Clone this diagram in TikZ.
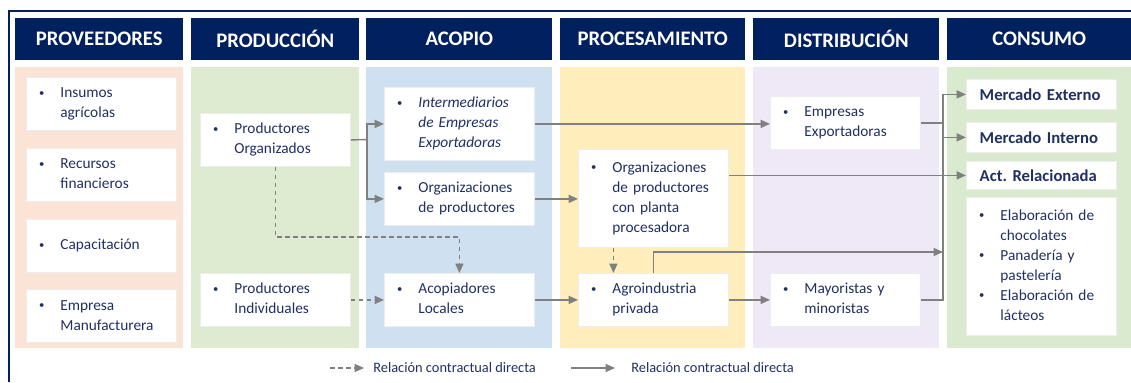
\documentclass[tikz,border=0pt]{standalone}
\usepackage{fontspec}
\setmainfont{Carlito}
\usepackage{tikz}
\usetikzlibrary{calc, arrows, arrows.meta, positioning}
\definecolor{navy}{RGB}{0,32,96}
\definecolor{txtblue}{RGB}{32,48,100}
\definecolor{linegray}{RGB}{128,128,128}
\definecolor{provbg}{RGB}{251,228,214}
\definecolor{prodbg}{RGB}{222,235,208}
\definecolor{acopbg}{RGB}{207,224,241}
\definecolor{procbg}{RGB}{255,238,188}
\definecolor{distbg}{RGB}{239,233,247}
\definecolor{consbg}{RGB}{218,234,207}
\newcommand{\dotb}{\raisebox{0.2ex}{\fontsize{8}{8}\selectfont\textbullet}}
\newcommand{\bul}[1]{\begin{tabular}{@{}p{16pt}@{}l@{}}\dotb & #1\end{tabular}}
\frenchspacing

\begin{document}
\begin{tikzpicture}[x=0.75pt,y=-0.75pt,>={Triangle[length=7pt,width=6pt]},
        font=\fontsize{11.5}{15}\selectfont]
        \tikzstyle{head}=[fill=navy,text=white,anchor=north west,minimum height=31.5pt,inner sep=0pt,font=\fontsize{15.5}{17}\selectfont\bfseries]
        \tikzstyle{item}=[fill=white,draw=black!7,line width=0.6pt,anchor=north west,minimum width=112.5pt,text width=93.5pt,inner xsep=9.5pt,inner ysep=0pt,minimum height=39.75pt,align=left,text=txtblue]
        \tikzstyle{mkt}=[item,text width=92.5pt,inner xsep=10pt,minimum height=22.5pt,font=\fontsize{12.5}{15}\selectfont\bfseries]
        \tikzstyle{conn}=[draw=linegray,line width=1.1pt]
        \tikzstyle{dashline}=[conn,dash pattern=on 3.5pt off 2.5pt]
        \useasboundingbox (0,0) rectangle (1131,382);
        % frame
        \draw[navy,line width=1.6pt] (9,382) -- (9,11) -- (1131,11);
        % column backgrounds
        \fill[provbg] (15,67) rectangle (183,348);
        \fill[prodbg] (191,67) rectangle (359,348);
        \fill[acopbg] (366,67) rectangle (552,348);
        \fill[procbg] (560,67) rectangle (745,348);
        \fill[distbg] (753,67) rectangle (939,348);
        \fill[consbg] (947,67) rectangle (1131,348);
        % headers
        \node[head,minimum width=126pt](hprov) at (15,18){PROVEEDORES};
        \node[head,minimum width=126pt](hprod) at (191,18){PRODUCCIÓN};
        \node[head,minimum width=139.5pt](hacop) at (366,18){ACOPIO};
        \node[head,minimum width=138.75pt](hproc) at (560,18){PROCESAMIENTO};
        \node[head,minimum width=139.5pt](hdist) at (753,18){DISTRIBUCIÓN};
        \node[head,minimum width=138pt](hcons) at (947,18){CONSUMO};
        % proveedores
        \node[item](insumos) at (26,77){\bul{Insumos\\&agrícolas}};
        \node[item,below=12.75pt of insumos](recursos){\bul{Recursos\\&financieros}};
        \node[item,below=12.75pt of recursos](capac){\bul{Capacitación}};
        \node[item,below=12.75pt of capac](manuf){\bul{Empresa\\&Manufacturera}};
        % produccion
        \node[item](orgz) at (200,113){\bul{Productores\\&Organizados}};
        \node[item](indiv) at (200,273){\bul{Productores\\&Individuales}};
        % acopio
        \node[item,minimum height=54.75pt](interm) at (384,87){\bul{\itshape Intermediarios\\&\itshape de Empresas\\&\itshape Exportadoras}};
        \node[item](orgprod) at (384,172){\bul{Organizaciones\\&de productores}};
        \node[item](acopiad) at (384,273){\bul{Acopiadores\\&Locales}};
        % procesamiento
        \node[item,minimum height=73.5pt](planta) at (578,149){\bul{Organizaciones\\&de productores\\&con planta\\&procesadora}};
        \node[item](agro) at (578,273){\bul{Agroindustria\\&privada}};
        % distribucion
        \node[item](exporta) at (770,96){\bul{Empresas\\&Exportadoras}};
        \node[item](mayor) at (770,273){\bul{Mayoristas y\\&minoristas}};
        % consumo
        \node[mkt](mext) at (966,79){Mercado Externo};
        \node[mkt](mint) at (966,122){Mercado Interno};
        \node[mkt,minimum height=21pt](actrel) at (966,161){Act. Relacionada};
        \node[item,minimum height=103.5pt](elab) at (966,197){\bul{Elaboración de\\&chocolates\\\dotb&Panadería y\\&pastelería\\\dotb&Elaboración de\\&lácteos}};
        % connectors
        \coordinate (split) at (367,139.5);
        \coordinate (bus) at (943,0);
        \coordinate (jagro) at (943,252);
        \draw[conn] (orgz.east) -- (split);
        \draw[conn,->] (split) |- (interm.west);
        \draw[conn,->] (split) |- (orgprod.west);
        \draw[conn,->] (interm.east) -- (interm.east -| exporta.west);
        \path (orgprod.east) edge[conn,->] (orgprod.east -| planta.west);
        \path (planta.east |- actrel.west) edge[conn,->] (actrel.west);
        \path (acopiad.east) edge[conn,->] (agro.west);
        \path (agro.east) edge[conn,->] (mayor.west);
        \draw[conn,->] (agro.north) |- (jagro);
        \draw[conn,->] (mayor.east) -| (bus |- mext.west) -- (mext.west);
        \draw[conn,->] (bus |- mint.west) -- (mint.west);
        \draw[conn] (exporta.east) -- (exporta.east -| bus);
        \draw[dashline,->] (orgz.south) |- ($(acopiad.north)+(0,-36)$) -- (acopiad.north);
        \path (indiv.east) edge[dashline,->] (acopiad.west);
        \path ([xshift=-30pt]planta.south) edge[dashline,->] ([xshift=-30pt]agro.north);
        % legend
        \coordinate (dleg) at (330,368);
        \coordinate (sleg) at (571,368);
        \node[anchor=west,text=txtblue,inner sep=0pt,font=\fontsize{10.8}{12}\selectfont](ldash) at (373,368){Relación contractual directa};
        \node[anchor=west,text=txtblue,inner sep=0pt,font=\fontsize{10.8}{12}\selectfont](lsolid) at (631,368){Relación contractual directa};
        \draw[dashline,->] (dleg) -- ($(dleg)+(34,0)$);
        \draw[conn,->] (sleg) -- ($(sleg)+(44,0)$);
     \end{tikzpicture}
\end{document}
